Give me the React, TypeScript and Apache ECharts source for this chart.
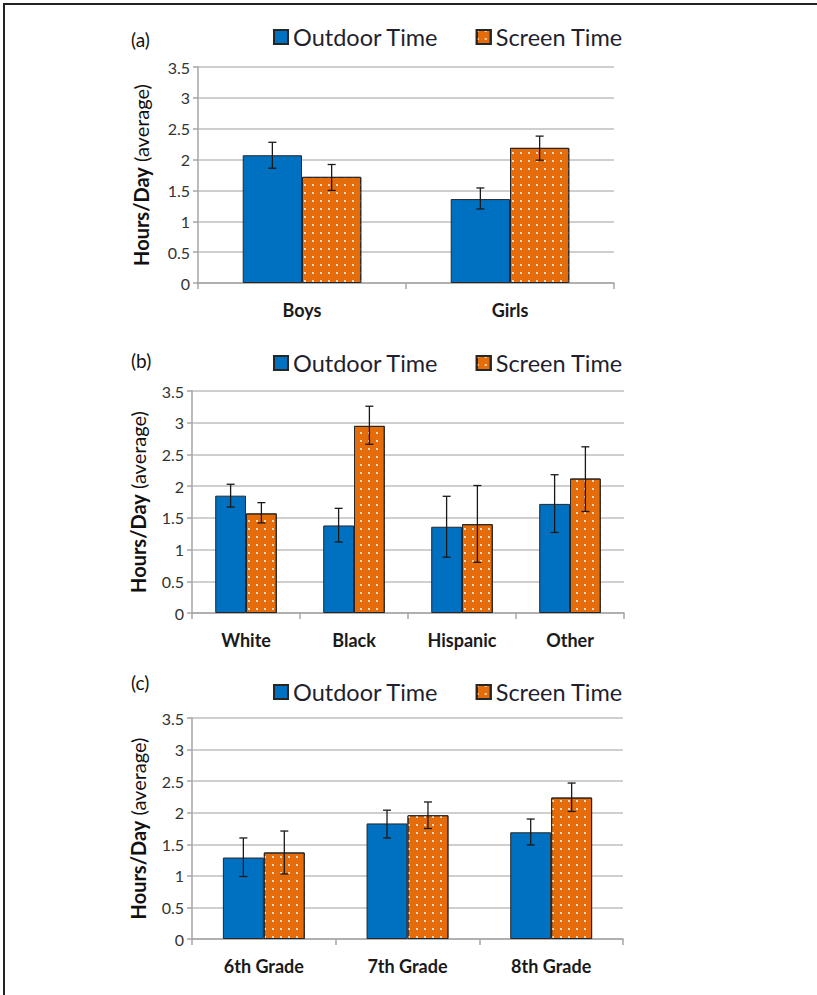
import React, { useEffect, useRef } from "react";
import * as echarts from "echarts";

const seriesNames = ["Outdoor Time", "Screen Time"];
const yTicks = [0, 0.5, 1, 1.5, 2, 2.5, 3, 3.5];

const catsA = ["Boys", "Girls"];
const outdoorA = [2.07, 1.36];
const screenA = [1.72, 2.19];
const outdoorLowA = [1.86, 1.2];
const outdoorHighA = [2.28, 1.54];
const screenLowA = [1.5, 1.99];
const screenHighA = [1.92, 2.38];

const catsB = ["White", "Black", "Hispanic", "Other"];
const outdoorB = [1.85, 1.38, 1.36, 1.72];
const screenB = [1.57, 2.95, 1.4, 2.12];
const outdoorLowB = [1.67, 1.12, 0.88, 1.27];
const outdoorHighB = [2.03, 1.65, 1.84, 2.18];
const screenLowB = [1.42, 2.66, 0.8, 1.6];
const screenHighB = [1.74, 3.26, 2.01, 2.62];

const catsC = ["6th Grade", "7th Grade", "8th Grade"];
const outdoorC = [1.29, 1.83, 1.69];
const screenC = [1.37, 1.96, 2.24];
const outdoorLowC = [0.99, 1.6, 1.49];
const outdoorHighC = [1.6, 2.04, 1.9];
const screenLowC = [1.03, 1.75, 2.02];
const screenHighC = [1.71, 2.17, 2.47];

const panelLetters = ["(a)", "(b)", "(c)"];

const FONT = "Lato, 'Open Sans', sans-serif";
const BLUE = "#0070C0";
const ORANGE = "#E46C0A";
const CAT_GAP = 0.43;

const panels = [
  { cats: catsA, out: outdoorA, scr: screenA, oL: outdoorLowA, oH: outdoorHighA, sL: screenLowA, sH: screenHighA,
    grid: { left: 198, right: 203, top: 67, height: 216 }, legendTop: 25, letterTop: 30, nameGap: 47 },
  { cats: catsB, out: outdoorB, scr: screenB, oL: outdoorLowB, oH: outdoorHighB, sL: screenLowB, sH: screenHighB,
    grid: { left: 192, right: 193, top: 391, height: 222 }, legendTop: 351, letterTop: 351, nameGap: 44 },
  { cats: catsC, out: outdoorC, scr: screenC, oL: outdoorLowC, oH: outdoorHighC, sL: screenLowC, sH: screenHighC,
    grid: { left: 192, right: 194, top: 718, height: 221 }, legendTop: 680, letterTop: 673, nameGap: 44 },
];

const dotDecal = {
  symbol: "rect",
  symbolSize: 1,
  dashArrayX: [1.2, 5.8],
  dashArrayY: [1.2, 5.8],
  color: "rgba(255,255,255,0.75)",
};

function errRender(params: any, api: any) {
  const ci = api.value(0);
  const low = api.value(1);
  const high = api.value(2);
  const side = api.value(3);
  const band = api.size([1, 0])[0];
  const cx = api.coord([ci, 0])[0] + side * band * (1 - CAT_GAP) / 4;
  const y1 = api.coord([ci, low])[1];
  const y2 = api.coord([ci, high])[1];
  const st = { stroke: "#1a1a1a", lineWidth: 1.3 };
  const cap = 4;
  return {
    type: "group",
    children: [
      { type: "line", shape: { x1: cx, y1: y1, x2: cx, y2: y2 }, style: st },
      { type: "line", shape: { x1: cx - cap, y1: y1, x2: cx + cap, y2: y1 }, style: st },
      { type: "line", shape: { x1: cx - cap, y1: y2, x2: cx + cap, y2: y2 }, style: st },
    ],
  };
}

export default function App() {
  const ref = useRef<HTMLDivElement>(null);
  useEffect(() => {
    if (!ref.current) return;
    const chart = echarts.init(ref.current, null, { renderer: "svg" });
    const grid: any[] = [];
    const xAxis: any[] = [];
    const yAxis: any[] = [];
    const legend: any[] = [];
    const series: any[] = [];
    const graphic: any[] = [];
    panels.forEach((p, i) => {
      grid.push({ ...p.grid, containLabel: false });
      xAxis.push({
        type: "category",
        gridIndex: i,
        data: p.cats,
        axisLine: { lineStyle: { color: "#A6A6A6", width: 1.5 } },
        axisTick: { show: true, length: 6, lineStyle: { color: "#A6A6A6", width: 1.5 } },
        axisLabel: { fontFamily: FONT, fontWeight: "bold", fontSize: 18, color: "#1a1a1a", margin: 18 },
      });
      yAxis.push({
        type: "value",
        gridIndex: i,
        min: 0,
        max: 3.5,
        interval: 0.5,
        name: "{hb|Hours/Day} {hn|(average)}",
        nameLocation: "middle",
        nameRotate: 90,
        nameGap: p.nameGap,
        nameTextStyle: {
          fontFamily: FONT,
          fontSize: 20,
          color: "#111",
          rich: {
            hb: { fontFamily: FONT, fontWeight: "bold", fontSize: 20, color: "#111" },
            hn: { fontFamily: FONT, fontWeight: "normal", fontSize: 20, color: "#111" },
          },
        },
        axisLine: { show: true, lineStyle: { color: "#A6A6A6", width: 1.5 } },
        axisTick: { show: true, length: 5, lineStyle: { color: "#A6A6A6", width: 1.5 } },
        splitLine: { lineStyle: { color: "#BFBFBF", width: 1.5 } },
        axisLabel: {
          fontFamily: FONT, fontSize: 16, color: "#333", margin: 8,
          formatter: (v: number) => (yTicks.indexOf(v) >= 0 ? String(v) : ""),
        },
      });
      legend.push({
        data: seriesNames,
        left: 273,
        top: p.legendTop,
        padding: 0,
        itemWidth: 14,
        itemHeight: 14,
        itemGap: 37,
        icon: "rect",
        textStyle: { fontFamily: FONT, fontSize: 23.5, color: "#1f1f2f" },
      });
      series.push({
        name: seriesNames[0],
        type: "bar",
        xAxisIndex: i,
        yAxisIndex: i,
        data: p.out,
        barGap: "0%",
        barCategoryGap: CAT_GAP * 100 + "%",
        itemStyle: { color: BLUE, borderColor: "#262626", borderWidth: 1 },
      });
      series.push({
        name: seriesNames[1],
        type: "bar",
        xAxisIndex: i,
        yAxisIndex: i,
        data: p.scr,
        barGap: "0%",
        barCategoryGap: CAT_GAP * 100 + "%",
        itemStyle: { color: ORANGE, borderColor: "#262626", borderWidth: 1, decal: dotDecal },
      });
      const errData: any[] = [];
      p.cats.forEach((_, k) => {
        errData.push([k, p.oL[k], p.oH[k], -1]);
        errData.push([k, p.sL[k], p.sH[k], 1]);
      });
      series.push({
        name: "err" + i,
        type: "custom",
        xAxisIndex: i,
        yAxisIndex: i,
        z: 10,
        renderItem: errRender,
        data: errData,
        encode: { x: 0, y: [1, 2] },
        silent: true,
      });
      graphic.push({
        type: "text",
        left: 131,
        top: p.letterTop,
        style: { text: panelLetters[i], font: "19px Lato, 'Open Sans', sans-serif", fill: "#111" },
      });
    });
    graphic.push({
      type: "polyline",
      shape: { points: [[4, 995], [4, 4], [817, 4]] },
      style: { stroke: "#222", lineWidth: 2, fill: null },
    });
    chart.setOption({
      animation: false,
      backgroundColor: "#fff",
      grid,
      xAxis,
      yAxis,
      legend,
      series,
      graphic,
    });
    return () => chart.dispose();
  }, []);
  return <div ref={ref} style={{ position: "absolute", left: 0, top: 0, width: 817, height: 995 }} />;
}
